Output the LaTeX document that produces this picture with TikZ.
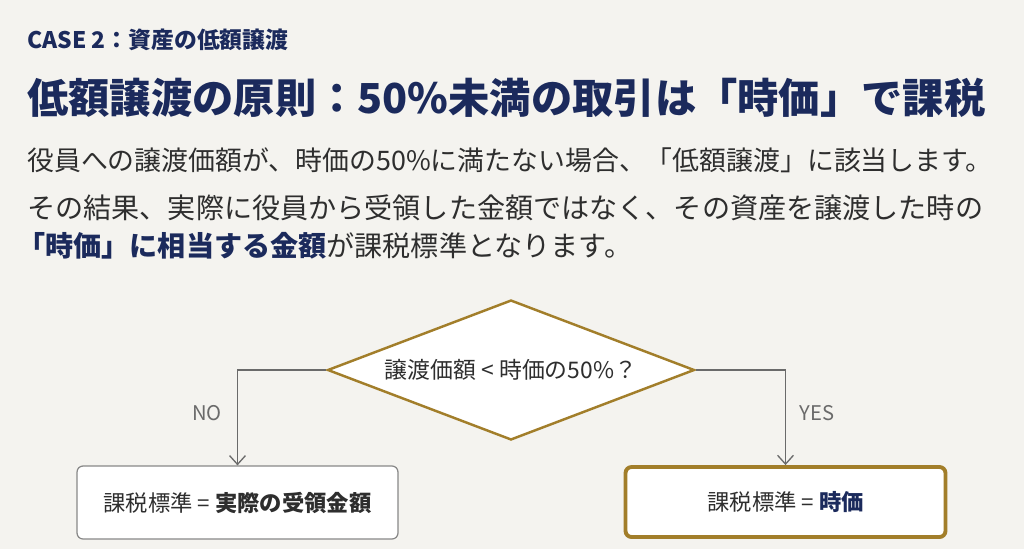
\documentclass[tikz,border=0pt]{standalone}
\usepackage{fontspec}
\setmainfont{Noto Sans CJK JP}
\usepackage{tikz}
\usetikzlibrary{shapes.geometric,arrows.meta}
\definecolor{navy}{HTML}{1B2A5C}
\definecolor{ink}{HTML}{2E2E2E}
\definecolor{gold}{HTML}{A27E2A}
\definecolor{paper}{HTML}{F4F3EF}
\definecolor{wire}{HTML}{6A6A6A}

\begin{document}
\begin{tikzpicture}[x=0.02cm,y=-0.02cm,
        txt/.style={anchor=west,inner sep=0pt,text=ink,font=\fontsize{16}{19}\selectfont},
        flow/.style={draw=wire,line width=0.75pt,-{Straight Barb[length=5pt,width=9pt]}},
        result/.style={draw,fill=white,rounded corners=3.4pt,align=center,text=ink,
                font=\fontsize{12.7}{15}\selectfont}]
        \fill[paper] (0,0) rectangle (1024,549);
        \useasboundingbox (0,0) rectangle (1024,549);
        \node (case) [anchor=west,inner sep=0pt,text=navy,font=\bfseries\fontsize{13}{16}\selectfont] at (27,40) {CASE 2：資産の低額譲渡};
        \node (title) [anchor=west,inner sep=0pt,text=navy,font=\bfseries\fontsize{23.5}{28}\selectfont] at (27,98) {低額譲渡の原則：50\%未満の取引は「時価」で課税};
        \node (l1) [txt,font=\fontsize{15.3}{19}\selectfont] at (27,160) {役員への譲渡価額が、時価の50\%に満たない場合、「低額譲渡」に該当します。};
        \node (l2) [txt] at (27,208) {その結果、実際に役員から受領した金額ではなく、その資産を譲渡した時の};
        \node (l3) [txt] at (17,246) {{\bfseries\color{navy}「時価」に相当する金額}が課税標準となります。};
        \node (q) [diamond,draw=gold,line width=1.4pt,fill=white,aspect=2.62,inner sep=0pt,
                minimum width=7.34cm,minimum height=2.8cm,text=ink,font=\fontsize{13}{16}\selectfont]
                at (511,370) {譲渡価額 < 時価の50\%？};
        \node (no) [result,draw=wire!80,line width=0.7pt,minimum width=6.42cm,minimum height=1.46cm]
                at (237.5,502.5) {課税標準 = {\bfseries 実際の受領金額}};
        \node (yes) [result,draw=gold,line width=2.2pt,minimum width=6.4cm,minimum height=1.4cm]
                at (785.5,502) {課税標準 = {\bfseries\color{navy}時価}};
        \node (nolab) [text=wire,font=\fontsize{11.5}{14}\selectfont] at (207,413) {NO};
        \node (yeslab) [text=wire,font=\fontsize{11.5}{14}\selectfont] at (817,413) {YES};
        \draw[flow] (q.west) -| (no.north);
        \draw[flow] (q.east) -| (yes.north);
\end{tikzpicture}
\end{document}
